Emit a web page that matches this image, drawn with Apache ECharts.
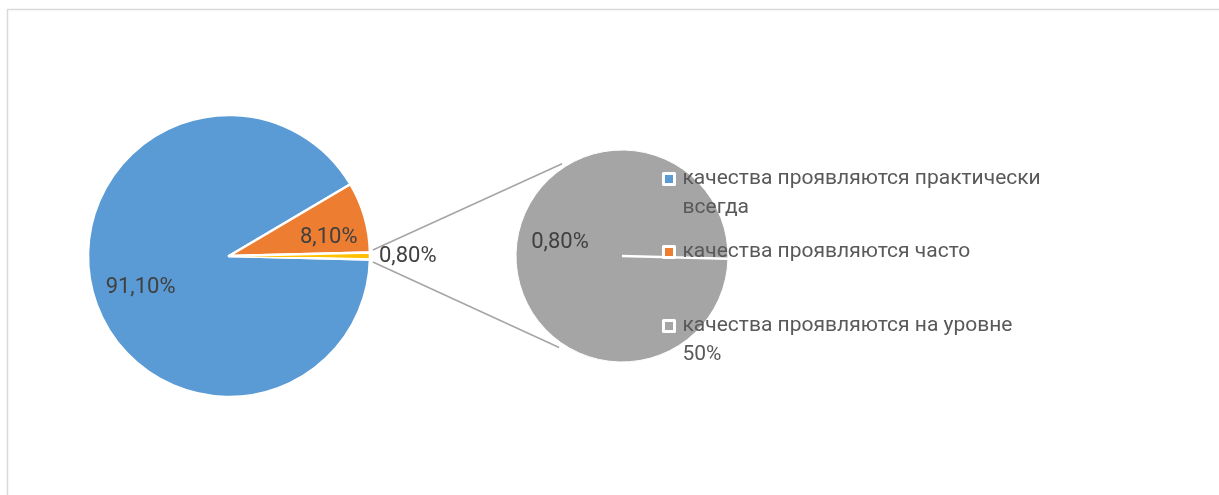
<!DOCTYPE html>
<html><head><meta charset="utf-8">
<script src="https://cdn.jsdelivr.net/npm/echarts@6/dist/echarts.min.js"></script>
<style>html,body{margin:0;padding:0;background:#fff}#c{width:1219px;height:495px}</style>
</head><body><div id="c"></div>
<script>
// ---- data ----
const categories = ['качества проявляются практически всегда', 'качества проявляются часто', 'качества проявляются на уровне 50%'];
const legendLabels = ['качества проявляются практически\nвсегда', 'качества проявляются часто', 'качества проявляются на уровне\n50%'];
const values = [91.1, 8.1, 0.8];
const splitIndex = 2;            // categories from this index go to the secondary pie
const otherName = 'Другое';

// ---- style / geometry ----
const colors = ['#5B9BD5', '#ED7D31', '#A5A5A5'];
const otherColor = '#FFC000';
const FONT = 'Roboto';
const FS = 21, LFS = 22;
const mainC = [229, 256], mainR = 141;
const secC = [622, 256], secR = 106;
const insideOffsets = [[10, 6], [2, 10]];
const legendLineTops = [179, 252, 326];   // vertical centre of each legend item's first line
const LH = 29;

const fmt = v => v.toFixed(2).replace('.', ',') + '%';
const total = values.reduce((a, b) => a + b, 0);
const otherValue = values.slice(splitIndex).reduce((a, b) => a + b, 0);
const otherAngle = otherValue / total * 360;
const mainStart = 360 - otherAngle / 2;

const mainData = categories.slice(0, splitIndex).map((n, i) => ({ name: n, value: values[i], itemStyle: { color: colors[i] } }))
  .concat([{
    name: otherName, value: otherValue, itemStyle: { color: otherColor },
    label: { show: true, position: 'outside', formatter: p => fmt(p.value), color: '#404040', fontSize: LFS, fontFamily: FONT }
  }]);
const secData = categories.slice(splitIndex).map((n, k) => ({ name: n, value: values[splitIndex + k], itemStyle: { color: colors[splitIndex + k] } }));

const overlayData = mainData.map((d, i) => ({
  name: d.name, value: d.value,
  label: i < splitIndex ? { show: true, position: 'inside', offset: insideOffsets[i] } : { show: false }
}));

const rad = a => a * Math.PI / 180;
const pt = (c, r, a) => [c[0] + r * Math.cos(rad(a)), c[1] - r * Math.sin(rad(a))];
const conTopA = pt(mainC, mainR + 3, 2.4), conBotA = pt(mainC, mainR + 3, -2.4);
const conTopB = pt(secC, secR + 4, 123), conBotB = pt(secC, secR + 5, 235.5);
const secStart = -otherAngle / 2;
const whiteEnd = pt(secC, secR, secStart);

// legend: one component per item so each can sit where the reference puts it
const SQ = 11, IW = 14;
const legends = categories.map((n, i) => {
  const twoLine = legendLabels[i].indexOf('\n') >= 0;
  const ih = twoLine ? SQ + LH : SQ;
  return {
    orient: 'vertical', left: 662, top: legendLineTops[i] - LH / 2, padding: 0,
    itemWidth: IW, itemHeight: ih,
    icon: 'path://M0,0h' + SQ + 'v' + SQ + 'h-' + SQ + 'z M' + IW + ',' + ih,
    selectedMode: false,
    itemStyle: { borderWidth: 3, borderColor: '#fff' },
    data: [n],
    formatter: () => legendLabels[i],
    textStyle: { color: '#595959', fontSize: FS, fontFamily: FONT, lineHeight: LH }
  };
});

const chart = echarts.init(document.getElementById('c'), null, { renderer: 'canvas' });
chart.setOption({
  backgroundColor: '#fff',
  animation: false,
  textStyle: { fontFamily: FONT },
  legend: legends,
  graphic: [
    { type: 'rect', shape: { x: 7.5, y: 9.5, width: 1400, height: 700 }, style: { fill: 'none', stroke: '#d9d9d9', lineWidth: 1.5 }, silent: true, z: 0 },
    { type: 'line', shape: { x1: conTopA[0], y1: conTopA[1], x2: conTopB[0], y2: conTopB[1] }, style: { stroke: '#A5A5A5', lineWidth: 1.5 }, silent: true },
    { type: 'line', shape: { x1: conBotA[0], y1: conBotA[1], x2: conBotB[0], y2: conBotB[1] }, style: { stroke: '#A5A5A5', lineWidth: 1.5 }, silent: true },
    { type: 'line', shape: { x1: secC[0], y1: secC[1], x2: whiteEnd[0], y2: whiteEnd[1] }, style: { stroke: '#fff', lineWidth: 2.5 }, silent: true, z: 3 }
  ],
  series: [
    {
      type: 'pie', center: mainC, radius: [0, mainR], startAngle: mainStart, clockwise: true,
      avoidLabelOverlap: false, silent: true,
      itemStyle: { borderColor: '#fff', borderWidth: 2.5 },
      label: { show: false },
      labelLine: { show: false, length: 4, length2: 0 },
      data: mainData
    },
    {
      type: 'pie', center: secC, radius: [0, secR], startAngle: secStart, clockwise: true,
      avoidLabelOverlap: false, silent: true,
      itemStyle: { borderColor: '#fff', borderWidth: 1 },
      label: { show: true, position: 'inside', formatter: p => fmt(p.value), color: '#404040', fontSize: LFS, fontFamily: FONT, offset: [-6, -12] },
      labelLine: { show: false },
      data: secData
    },
    {
      type: 'pie', center: mainC, radius: [mainR * 0.4, mainR], startAngle: mainStart, clockwise: true,
      avoidLabelOverlap: false, silent: true, z: 5,
      itemStyle: { color: 'rgba(0,0,0,0)', borderWidth: 0 },
      label: { show: true, formatter: p => fmt(p.value), color: '#404040', fontSize: LFS, fontFamily: FONT },
      labelLine: { show: false },
      emphasis: { disabled: true },
      data: overlayData
    }
  ]
});
</script></body></html>
